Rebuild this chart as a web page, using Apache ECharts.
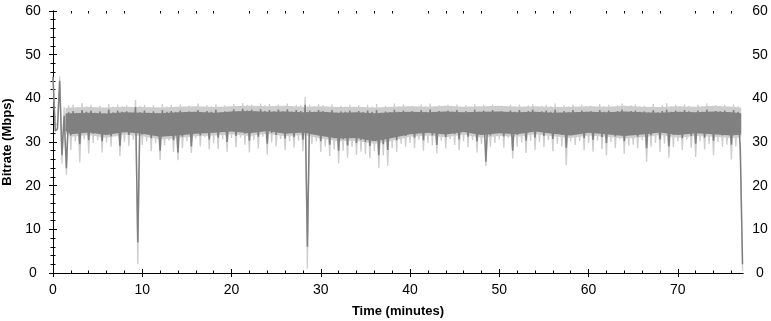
<!DOCTYPE html>
<html>
<head>
<meta charset="utf-8">
<script src="https://cdn.jsdelivr.net/npm/echarts@6/dist/echarts.min.js"></script>
<style>
html, body { margin: 0; padding: 0; background: #fff; }
#bitrate { width: 771px; height: 321px; }
</style>
</head>
<body>
<div id="bitrate"></div>
<script>
// one sample every 0.25 min (light = peak band, dark = average band)
var stepMin = 0.25;
var timeMax = 77.3;
var xTicks = [0, 10, 20, 30, 40, 50, 60, 70];
var yTicks = [0, 10, 20, 30, 40, 50, 60];

var darkVals = [
45, 32.5, 33, 44, 27, 36, 24, 36.8, 31.5, 37.1, 32.4, 36.6, 29.5, 37.3, 32.9, 36.9, 30.4, 37.2, 31.9, 36.7,
32.6, 37.0, 30.2, 36.5, 32.1, 37.4, 31.3, 36.8, 33.0, 37.2, 29.1, 36.9, 32.2, 37.0, 31.6, 36.4, 32.8, 38.0, 7, 36.8,
31.7, 37.2, 32.5, 36.7, 30.9, 37.0, 32.3, 36.6, 28.0, 37.3, 31.8, 36.9, 32.6, 37.1, 30.4, 36.8, 27.6, 37.2, 31.2, 36.5,
32.4, 37.0, 29.0, 36.8, 32.7, 37.3, 31.5, 36.6, 32.9, 37.1, 30.6, 36.9, 32.2, 37.4, 31.0, 36.7, 32.5, 37.0, 30.0, 36.8,
32.8, 37.5, 31.4, 37.0, 33.1, 37.6, 31.9, 37.2, 30.3, 37.4, 32.6, 36.9, 31.2, 37.5, 33.0, 37.1, 29.6, 37.3, 32.1, 37.0,
31.6, 37.4, 32.9, 37.0, 30.8, 37.5, 32.3, 36.9, 31.1, 37.3, 32.7, 37.1, 30.5, 38.5, 6, 37.2, 31.8, 36.9, 32.4, 37.3,
30.2, 37.1, 31.6, 36.8, 29.4, 37.3, 30.9, 36.7, 28.0, 37.0, 30.6, 36.9, 29.2, 37.2, 31.3, 36.6, 29.8, 37.1, 30.4, 36.8,
30.0, 37.2, 29.1, 36.9, 30.7, 37.3, 27.0, 36.7, 29.5, 37.0, 28.2, 36.8, 31.2, 37.4, 30.4, 36.9, 32.0, 37.2, 31.4, 36.8,
32.3, 37.0, 31.0, 36.6, 32.8, 37.3, 30.4, 36.9, 32.1, 37.4, 31.5, 36.8, 29.3, 37.1, 32.6, 36.7, 31.1, 37.2, 32.9, 36.9,
31.8, 37.3, 30.6, 36.8, 32.4, 37.1, 31.2, 36.7, 32.7, 37.4, 30.1, 36.9, 32.0, 37.2, 25.5, 36.8, 31.5, 37.3, 32.3, 36.6,
32.5, 37.0, 31.3, 36.8, 32.9, 37.2, 28.0, 36.9, 31.7, 37.3, 32.2, 36.7, 30.3, 37.1, 32.6, 37.4, 31.0, 36.8, 32.4, 37.0,
31.4, 37.2, 32.8, 36.9, 30.7, 37.4, 32.1, 36.7, 31.6, 37.1, 28.7, 36.8, 32.5, 37.3, 31.9, 36.6, 32.7, 37.2, 30.9, 36.9,
32.2, 37.0, 30.5, 36.8, 32.6, 37.3, 31.1, 36.9, 29.8, 37.2, 32.4, 36.7, 31.3, 37.1, 32.9, 37.4, 30.2, 36.8, 31.7, 37.1,
32.0, 37.2, 31.2, 36.9, 32.7, 37.0, 28.6, 36.7, 31.5, 37.3, 32.3, 36.8, 30.6, 37.1, 32.1, 37.4, 29.0, 36.9, 31.6, 37.2,
32.4, 36.8, 30.9, 37.3, 32.8, 37.0, 31.4, 36.7, 29.6, 37.2, 32.5, 36.9, 31.0, 37.4, 32.2, 36.8, 30.3, 37.1, 32.6, 37.0,
31.5, 37.2, 32.1, 36.8, 29.4, 37.3, 31.8, 36.9, 28.5, 2
];

var lightVals = [
44.5, 33.8, 34.2, 45, 25, 38, 22.5, 38.4, 28.2, 38.6, 30.1, 38.0, 25.3, 38.9, 30.6, 38.2, 27.4, 38.5, 29.8, 37.9,
30.4, 38.3, 27.6, 37.8, 29.9, 38.7, 28.9, 38.1, 31.2, 38.6, 26.8, 38.2, 30.0, 38.4, 29.1, 37.7, 30.5, 39.6, 2, 38.3,
29.3, 38.5, 30.1, 38.0, 27.9, 38.4, 29.8, 37.9, 25.9, 38.7, 29.2, 38.1, 30.3, 38.5, 27.7, 38.0, 25.8, 38.6, 28.6, 37.8,
30.2, 38.3, 27.5, 38.1, 30.8, 38.8, 29.0, 37.9, 31.1, 38.4, 28.3, 38.2, 29.7, 38.6, 28.4, 38.0, 30.6, 38.4, 27.8, 38.1,
30.9, 38.7, 28.8, 38.3, 31.0, 38.9, 29.4, 38.5, 27.6, 38.6, 30.4, 38.2, 28.5, 38.8, 31.2, 38.4, 27.1, 38.7, 29.9, 38.3,
29.0, 38.6, 30.7, 38.2, 28.1, 38.8, 30.2, 38.1, 28.7, 38.5, 30.3, 38.4, 27.9, 40.3, 1, 38.6, 29.5, 38.2, 30.1, 38.7,
27.7, 38.4, 29.0, 38.0, 26.8, 38.6, 28.3, 37.9, 25.1, 38.3, 28.0, 38.1, 26.4, 38.5, 28.9, 37.8, 27.1, 38.4, 27.8, 38.0,
27.2, 38.5, 26.3, 38.1, 28.0, 38.7, 24.0, 37.9, 26.9, 38.3, 24.5, 38.0, 28.6, 38.8, 27.7, 38.2, 29.6, 38.5, 28.9, 38.1,
29.8, 38.3, 28.6, 37.9, 30.5, 38.6, 28.0, 38.2, 29.7, 38.8, 29.2, 38.1, 27.4, 38.4, 30.3, 38.0, 28.5, 38.5, 30.7, 38.2,
29.3, 38.6, 28.1, 38.0, 30.2, 38.4, 28.8, 37.9, 30.4, 38.7, 27.6, 38.2, 29.5, 38.5, 24.5, 38.1, 28.9, 38.6, 29.8, 37.8,
30.6, 38.3, 28.7, 38.1, 30.9, 38.5, 26.2, 38.2, 29.0, 38.6, 29.9, 37.9, 27.5, 38.4, 30.3, 38.7, 28.2, 38.0, 30.0, 38.3,
28.8, 38.5, 30.4, 38.2, 27.9, 38.8, 29.6, 38.0, 28.9, 38.4, 24.7, 38.1, 30.1, 38.6, 29.3, 37.8, 30.2, 38.5, 28.1, 38.2,
29.7, 38.3, 27.8, 38.0, 30.3, 38.7, 28.4, 38.2, 26.9, 38.5, 30.0, 37.9, 28.6, 38.4, 30.6, 38.8, 27.3, 38.1, 29.1, 38.4,
29.4, 38.6, 28.5, 38.2, 30.4, 38.3, 25.5, 37.9, 28.9, 38.7, 29.8, 38.0, 27.7, 38.4, 29.6, 38.9, 26.4, 38.2, 28.8, 38.5,
30.1, 38.1, 28.2, 38.6, 30.5, 38.3, 28.7, 37.9, 26.6, 38.5, 30.2, 38.2, 28.3, 38.8, 29.5, 38.0, 27.0, 38.4, 30.0, 38.3,
28.9, 38.5, 29.4, 38.1, 26.0, 38.6, 29.0, 38.2, 25.8, 0.5
];

// solid core of each band (where the samples overlap densely), read every 2 min
var coreTimes = [1.4, 2, 4, 6, 8, 10, 12, 14, 16, 18, 20, 22, 24, 26, 28, 30, 32, 34, 36, 38,
  40, 42, 44, 46, 48, 50, 52, 54, 56, 58, 60, 62, 64, 66, 68, 70, 72, 74, 76, 77.1];
var darkCoreLow = [32.5, 31.8, 32.2, 31.6, 32.3, 31.9, 31.2, 31.5, 31.9, 32.1, 32.4, 32.0, 32.5, 31.9, 32.2, 31.4, 30.8, 30.9, 30.2, 30.9,
  31.8, 32.1, 31.7, 32.3, 31.6, 32.0, 31.8, 32.4, 31.9, 31.5, 32.1, 31.8, 31.4, 31.7, 32.2, 31.6, 32.0, 31.8, 31.5, 31.7];
var darkCoreHigh = [36.5, 36.6, 36.7, 36.5, 36.8, 36.7, 36.6, 36.8, 36.9, 36.7, 37.0, 37.1, 36.9, 37.0, 36.8, 36.9, 36.7, 36.8, 36.6, 36.8,
  36.9, 36.8, 37.0, 36.8, 36.9, 37.0, 36.8, 36.9, 36.7, 36.8, 36.9, 36.8, 37.0, 36.8, 36.7, 36.9, 36.8, 37.0, 36.8, 36.6];
var lightCoreLow = [31.9, 31.2, 31.6, 31.0, 31.7, 31.3, 30.6, 30.9, 31.3, 31.5, 31.8, 31.4, 31.9, 31.3, 31.6, 30.8, 30.2, 30.3, 29.6, 30.3,
  31.2, 31.5, 31.1, 31.7, 31.0, 31.4, 31.2, 31.8, 31.3, 30.9, 31.5, 31.2, 30.8, 31.1, 31.6, 31.0, 31.4, 31.2, 30.9, 31.1];
var lightCoreHigh = [37.8, 37.9, 38.0, 37.9, 38.1, 38.0, 37.9, 38.1, 38.2, 38.0, 38.2, 38.3, 38.2, 38.3, 38.1, 38.2, 38.0, 38.1, 37.9, 38.1,
  38.2, 38.1, 38.3, 38.1, 38.2, 38.3, 38.1, 38.2, 38.0, 38.1, 38.2, 38.1, 38.3, 38.1, 38.0, 38.2, 38.1, 38.3, 38.1, 37.9];

var xMinor = [];
for (var m = 2; m < timeMax; m += 2) {
  if (m % 10 !== 0) xMinor.push(m);
}

function toPairs(vals) {
  var out = [];
  for (var i = 0; i < vals.length; i++) {
    out.push([i * stepMin, vals[i]]);
  }
  return out;
}

function coreData(lo, hi) {
  var out = [];
  for (var i = 0; i < coreTimes.length; i++) {
    out.push([coreTimes[i], lo[i], hi[i]]);
  }
  return out;
}

var labelFont = {
  color: '#000',
  fontFamily: 'Liberation Sans',
  fontSize: 14
};
var nameFont = {
  color: '#000',
  fontFamily: 'Liberation Sans',
  fontSize: 13,
  fontWeight: 'bold'
};
var black = {color: '#000', width: 1};
var lightGrey = '#cdcdcd';
var darkGrey = '#808080';

// extra axes that only carry ticks
function tickAxis(pos, isX, values, inside, len, showLine) {
  return {
    type: 'value',
    position: pos,
    min: 0,
    max: isX ? timeMax : 60,
    axisLine: {show: !!showLine, lineStyle: black},
    axisTick: {show: true, inside: inside, length: len, customValues: values, lineStyle: black},
    axisLabel: {show: false},
    splitLine: {show: false}
  };
}

// band polygon between low and high edges, drawn once from all items
function bandSeries(name, lo, hi, color, z) {
  return {
    name: name,
    type: 'custom',
    silent: true,
    z: z,
    data: coreData(lo, hi),
    encode: {x: 0, y: [1, 2]},
    renderItem: function (params, api) {
      if (params.dataIndexInside !== 0) return null;
      var n = params.dataInsideLength;
      var pts = [];
      for (var j = 0; j < n; j++) {
        pts.push(api.coord([api.value(0, j), api.value(2, j)]));
      }
      for (var k = n - 1; k >= 0; k--) {
        pts.push(api.coord([api.value(0, k), api.value(1, k)]));
      }
      return {type: 'polygon', shape: {points: pts}, style: {fill: color}};
    }
  };
}

var chart = echarts.init(document.getElementById('bitrate'));

var option = {
  animation: false,
  backgroundColor: '#fff',
  grid: {left: 53, right: 28, top: 11, bottom: 48, outerBoundsMode: 'none'},
  xAxis: [
    {
      type: 'value',
      position: 'bottom',
      min: 0,
      max: timeMax,
      name: 'Time (minutes)',
      nameLocation: 'middle',
      nameGap: 32,
      nameTextStyle: nameFont,
      axisLine: {show: true, lineStyle: black},
      axisTick: {show: true, inside: false, length: 4, customValues: xTicks, lineStyle: black},
      axisLabel: Object.assign({margin: 10, customValues: xTicks}, labelFont),
      splitLine: {show: false}
    },
    tickAxis('bottom', true, xTicks, true, 4, false),
    tickAxis('bottom', true, xMinor, true, 2.5, false),
    tickAxis('top', true, xTicks, true, 4, true),
    tickAxis('top', true, xMinor, true, 2.5, false)
  ],
  yAxis: [
    {
      type: 'value',
      position: 'left',
      min: 0,
      max: 60,
      interval: 10,
      name: 'Bitrate (Mbps)',
      nameLocation: 'middle',
      nameGap: 34,
      nameTextStyle: nameFont,
      axisLine: {show: true, lineStyle: black},
      axisTick: {show: true, inside: false, length: 4, lineStyle: black},
      axisLabel: Object.assign({margin: 20, align: 'center', customValues: yTicks}, labelFont),
      splitLine: {show: false}
    },
    {
      type: 'value',
      position: 'left',
      min: 0,
      max: 60,
      interval: 10,
      axisLine: {show: false},
      axisTick: {show: true, inside: true, length: 4, lineStyle: black},
      minorTick: {show: true, splitNumber: 5, length: 2.5, lineStyle: black},
      axisLabel: {show: false},
      splitLine: {show: false}
    },
    {
      type: 'value',
      position: 'right',
      min: 0,
      max: 60,
      interval: 10,
      axisLine: {show: true, lineStyle: black},
      axisTick: {show: true, inside: false, length: 4, lineStyle: black},
      axisLabel: Object.assign({margin: 17, align: 'center', customValues: yTicks}, labelFont),
      splitLine: {show: false}
    },
    {
      type: 'value',
      position: 'right',
      min: 0,
      max: 60,
      interval: 10,
      axisLine: {show: false},
      axisTick: {show: true, inside: true, length: 4, lineStyle: black},
      minorTick: {show: true, splitNumber: 5, length: 2.5, lineStyle: black},
      axisLabel: {show: false},
      splitLine: {show: false}
    }
  ],
  series: [
    bandSeries('peakCore', lightCoreLow, lightCoreHigh, lightGrey, 1),
    {
      name: 'peak',
      type: 'line',
      data: toPairs(lightVals),
      symbol: 'none',
      sampling: 'none',
      lineStyle: {color: lightGrey, width: 1.3, join: 'bevel'},
      z: 2
    },
    bandSeries('avgCore', darkCoreLow, darkCoreHigh, darkGrey, 3),
    {
      name: 'average',
      type: 'line',
      data: toPairs(darkVals),
      symbol: 'none',
      sampling: 'none',
      lineStyle: {color: darkGrey, width: 1.5, join: 'bevel'},
      z: 4
    }
  ]
};

chart.setOption(option);
</script>
</body>
</html>
